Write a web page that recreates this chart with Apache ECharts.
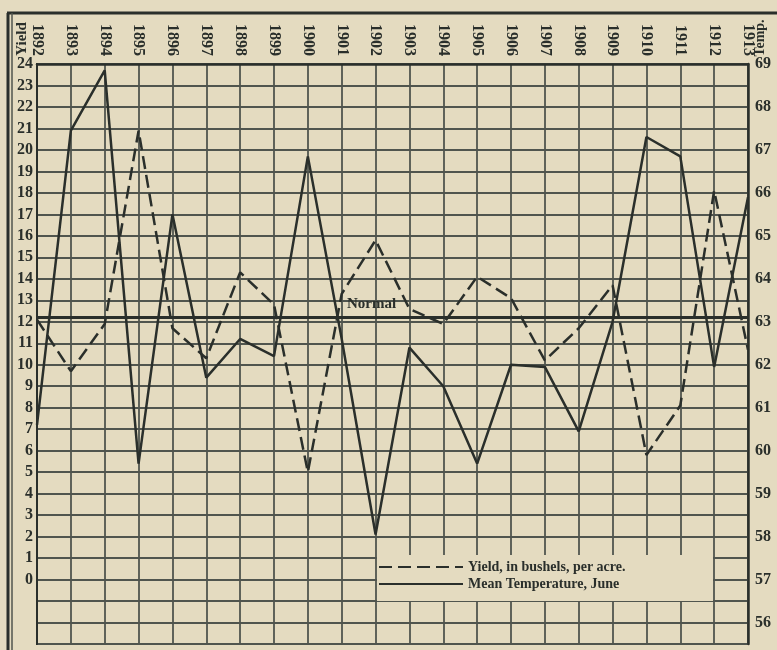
<!DOCTYPE html>
<html>
<head>
<meta charset="utf-8">
<script src="https://cdn.jsdelivr.net/npm/echarts@6/dist/echarts.min.js"></script>
<style>
html,body{margin:0;padding:0;background:#e4dbc0;}
#chart{width:777px;height:650px;}
</style>
</head>
<body>
<div id="chart"></div>
<script>
const years = ['1892','1893','1894','1895','1896','1897','1898','1899','1900','1901','1902','1903','1904','1905','1906','1907','1908','1909','1910','1911','1912','1913'];
const yieldBushels = [12.1, 9.7, 11.9, 20.9, 11.7, 10.3, 14.3, 12.8, 5.0, 13.3, 15.8, 12.6, 11.9, 14.1, 13.1, 10.2, 11.7, 13.7, 5.8, 8.1, 18.1, 10.7];
const meanTempJune = [60.6, 67.45, 68.85, 59.7, 65.5, 61.7, 62.6, 62.2, 66.85, 62.6, 58.05, 62.4, 61.5, 59.7, 62.0, 61.95, 60.45, 63.0, 67.3, 66.85, 61.95, 65.9];
const normalTemp = 63.1;
const yieldTitle = 'Yield';
const tempTitle = 'Temp.';
const normalLabel = 'Normal';
const legendNames = ['Yield, in bushels, per acre.', 'Mean Temperature, June'];

const ink = '#2a2f2b';
const gridInk = '#50554e';
const paper = '#e4dbc0';
const font = '"Liberation Serif", "DejaVu Serif", serif';

const chart = echarts.init(document.getElementById('chart'));
chart.setOption({
  backgroundColor: paper,
  animation: false,
  grid: {left: 37, right: 29, top: 64, bottom: 6, show: true, borderColor: ink, borderWidth: 2, backgroundColor: 'transparent'},
  xAxis: {
    type: 'category', data: years, boundaryGap: false, position: 'top',
    axisLine: {show: true, onZero: false, lineStyle: {color: ink, width: 2.5}},
    axisTick: {show: false},
    axisLabel: {interval: 0, rotate: 90, margin: 8, color: ink, fontFamily: font, fontWeight: 'bold', fontSize: 16},
    splitLine: {show: true, interval: 0, lineStyle: {color: gridInk, width: 1.8}}
  },
  yAxis: [
    {
      type: 'value', min: -3, max: 24, interval: 1, position: 'left',
      axisLine: {show: true, onZero: false, lineStyle: {color: ink, width: 2}},
      axisTick: {show: false},
      axisLabel: {margin: 4, color: ink, fontFamily: font, fontWeight: 'bold', fontSize: 16,
        formatter: v => (v >= 0 ? String(v) : '')},
      splitLine: {show: true, lineStyle: {color: gridInk, width: 1.8}}
    },
    {
      type: 'value', min: 55.5, max: 69, interval: 0.5, position: 'right',
      axisLine: {show: true, onZero: false, lineStyle: {color: ink, width: 2.5}},
      axisTick: {show: false},
      axisLabel: {margin: 7, color: ink, fontFamily: font, fontWeight: 'bold', fontSize: 16,
        formatter: v => (Math.abs(v - Math.round(v)) < 1e-6 ? String(Math.round(v)) : '')},
      splitLine: {show: false}
    }
  ],
  legend: {
    orient: 'vertical', left: 378, top: 560, z: 20,
    itemWidth: 84, itemHeight: 10, itemGap: 3, padding: 0,
    selectedMode: false,
    itemStyle: {opacity: 0},
    textStyle: {color: ink, fontFamily: font, fontWeight: 'bold', fontSize: 14},
    data: legendNames
  },
  graphic: [
    {type: 'rect', z: 10, shape: {x: 377, y: 555, width: 336, height: 46}, style: {fill: paper}},
    {type: 'line', z: 10, shape: {x1: 7, y1: 13, x2: 777, y2: 13}, style: {stroke: ink, lineWidth: 3}},
    {type: 'line', z: 10, shape: {x1: 8, y1: 13, x2: 8, y2: 650}, style: {stroke: ink, lineWidth: 3}},
    {type: 'line', z: 10, shape: {x1: 12, y1: 13, x2: 12, y2: 650}, style: {stroke: gridInk, lineWidth: 1.5}},
    {type: 'text', z: 10, x: 22, y: 39, rotation: Math.PI / 2,
      style: {text: yieldTitle, fill: ink, font: 'bold 15px ' + font, align: 'center', verticalAlign: 'middle'}},
    {type: 'text', z: 10, x: 760, y: 38, rotation: Math.PI / 2,
      style: {text: tempTitle, fill: ink, font: 'bold 14px ' + font, align: 'center', verticalAlign: 'middle'}},
    {type: 'text', z: 10, x: 347, y: 312,
      style: {text: normalLabel, fill: ink, font: 'bold 15px ' + font, align: 'left', verticalAlign: 'bottom'}}
  ],
  series: [
    {
      name: legendNames[0], type: 'line', data: yieldBushels, yAxisIndex: 0,
      symbol: 'none', z: 5,
      lineStyle: {color: ink, width: 2.5, type: [13, 6]},
      itemStyle: {color: ink}
    },
    {
      name: legendNames[1], type: 'line', data: meanTempJune, yAxisIndex: 1,
      symbol: 'none', z: 5,
      lineStyle: {color: ink, width: 2.5, type: 'solid'},
      itemStyle: {color: ink},
      markLine: {
        silent: true, symbol: 'none',
        lineStyle: {color: ink, width: 3, type: 'solid'},
        label: {show: false},
        data: [{yAxis: normalTemp}]
      }
    }
  ]
});
</script>
</body>
</html>
